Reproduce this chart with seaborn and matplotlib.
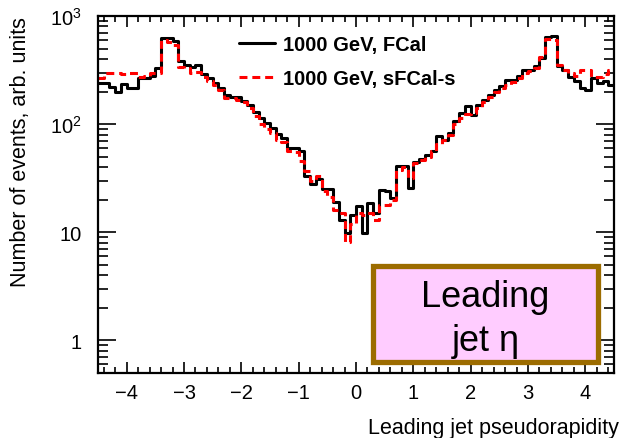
import numpy as np
import pandas as pd
import matplotlib
matplotlib.use("Agg")
import matplotlib.pyplot as plt
import seaborn as sns
from matplotlib.patches import Rectangle
from matplotlib.ticker import FixedLocator, MultipleLocator, LogLocator, NullFormatter

# ---- data -------------------------------------------------------------
eta_edges = np.round(np.linspace(-4.5, 4.5, 91), 2)   # 0.1-wide bins

fcal_1000 = [
    240, 240, 220, 197, 235, 215, 215, 265, 267, 280,
    330, 620, 620, 590, 380, 350, 340, 350, 290, 265,
    240, 215, 185, 180, 178, 165, 150, 130, 115, 102,
    92, 81, 74, 60, 60, 56, 33, 28, 31, 25,
    25, 19, 13, 9.8, 14.4, 17.5, 9.8, 18.5, 15, 24.5,
    24, 20.6, 41, 41, 25.5, 45, 48, 52, 57, 77,
    71, 83, 107, 126, 146, 121, 150, 168, 186, 205,
    225, 255, 255, 280, 315, 315, 345, 410, 640, 650,
    345, 315, 275, 250, 215, 205, 267, 240, 250, 230,
]
sfcal_1000 = [
    265, 300, 300, 300, 290, 295, 300, 275, 280, 295,
    300, 600, 580, 540, 340, 330, 300, 305, 275, 250,
    230, 205, 175, 175, 168, 160, 140, 120, 100, 90,
    82, 72, 68, 56, 55, 46, 37, 30, 33, 24,
    21, 16, 15, 8.2, 12, 15, 14.5, 15, 13, 18,
    18, 20, 38, 40, 32, 44, 47, 50, 56, 66,
    72, 80, 100, 115, 125, 128, 142, 160, 178, 200,
    215, 230, 245, 265, 295, 310, 330, 420, 610, 600,
    350, 320, 295, 280, 320, 320, 270, 270, 290, 315,
]
series_labels = ["1000 GeV, FCal", "1000 GeV, sFCal-s"]
x_ticks = [-4, -3, -2, -1, 0, 1, 2, 3, 4]
y_ticks = [1, 10, 100, 1000]
y_ticklabels = ["1", "10", r"$10^{2}$", r"$10^{3}$"]

df = pd.DataFrame({
    "eta": eta_edges,
    "FCal": list(fcal_1000) + [fcal_1000[-1]],
    "sFCal": list(sfcal_1000) + [sfcal_1000[-1]],
})

# ---- style ------------------------------------------------------------
sns.set_theme(style="ticks")
plt.rcParams["font.family"] = ["Liberation Sans", "DejaVu Sans"]
plt.rcParams["mathtext.fontset"] = "custom"
plt.rcParams["mathtext.rm"] = "Liberation Sans"
plt.rcParams["mathtext.it"] = "Liberation Sans:italic"
for k in ["text.color", "axes.labelcolor", "xtick.color", "ytick.color",
          "axes.edgecolor"]:
    plt.rcParams[k] = "black"

fig = plt.figure(figsize=(6.23, 4.39), dpi=100)
ax = fig.add_axes([98 / 623, 1 - 374 / 439, 516 / 623, 357 / 439])

sns.lineplot(data=df, x="eta", y="FCal", drawstyle="steps-post",
             estimator=None, color="black", lw=2.2, ax=ax,
             label=series_labels[0])
sns.lineplot(data=df, x="eta", y="sFCal", drawstyle="steps-post",
             estimator=None, color="red", lw=2.2, ax=ax,
             linestyle=(0, (2.6, 1.6)), label=series_labels[1])

ax.set_yscale("log")
ax.set_xlim(-4.5, 4.5)
ax.set_ylim(0.5, 1000)

ax.xaxis.set_major_locator(FixedLocator(x_ticks))
ax.xaxis.set_minor_locator(MultipleLocator(0.2))
ax.yaxis.set_major_locator(FixedLocator(y_ticks))
ax.set_yticklabels(y_ticklabels)
ax.yaxis.set_minor_locator(LogLocator(base=10, subs=np.arange(2, 10)))
ax.yaxis.set_minor_formatter(NullFormatter())

ax.tick_params(axis="both", which="both", direction="in", top=True, right=True,
               colors="black", width=1.2)
ax.tick_params(axis="x", which="major", length=8, labelsize=14.5, pad=7)
ax.tick_params(axis="x", which="minor", length=4)
ax.tick_params(axis="y", which="major", length=13, labelsize=14.5, pad=12)
ax.tick_params(axis="y", which="minor", length=7)
for sp in ax.spines.values():
    sp.set_linewidth(1.6)
    sp.set_color("black")

ax.set_xlabel("Leading jet pseudorapidity", fontsize=15.5)
ax.xaxis.set_label_coords(1.01, -0.152)
ax.xaxis.label.set_ha("right")
ax.xaxis.label.set_va("center")
ax.set_ylabel("Number of events, arb. units", fontsize=15.5)
ax.yaxis.set_label_coords(-0.151, 1.0)
ax.yaxis.label.set_va("center")
ax.yaxis.label.set_ha("right")

leg = ax.legend(loc="upper left", bbox_to_anchor=(0.273, 0.948), frameon=False,
                prop={"weight": "bold", "size": 14.5}, handlelength=1.8,
                handletextpad=0.4, labelspacing=0.75, borderpad=0,
                borderaxespad=0)

# label box
box = Rectangle((0.533, 0.031), 0.436, 0.269, transform=ax.transAxes,
                facecolor="#ffccff", edgecolor="#9c6c00", lw=3.8, zorder=5)
ax.add_patch(box)
ax.text(0.751, 0.213, "Leading", transform=ax.transAxes, ha="center",
        va="center", fontsize=26, zorder=6)
ax.text(0.751, 0.09, "jet η", transform=ax.transAxes, ha="center",
        va="center", fontsize=26, zorder=6)

fig.savefig("out.png", dpi=100)
